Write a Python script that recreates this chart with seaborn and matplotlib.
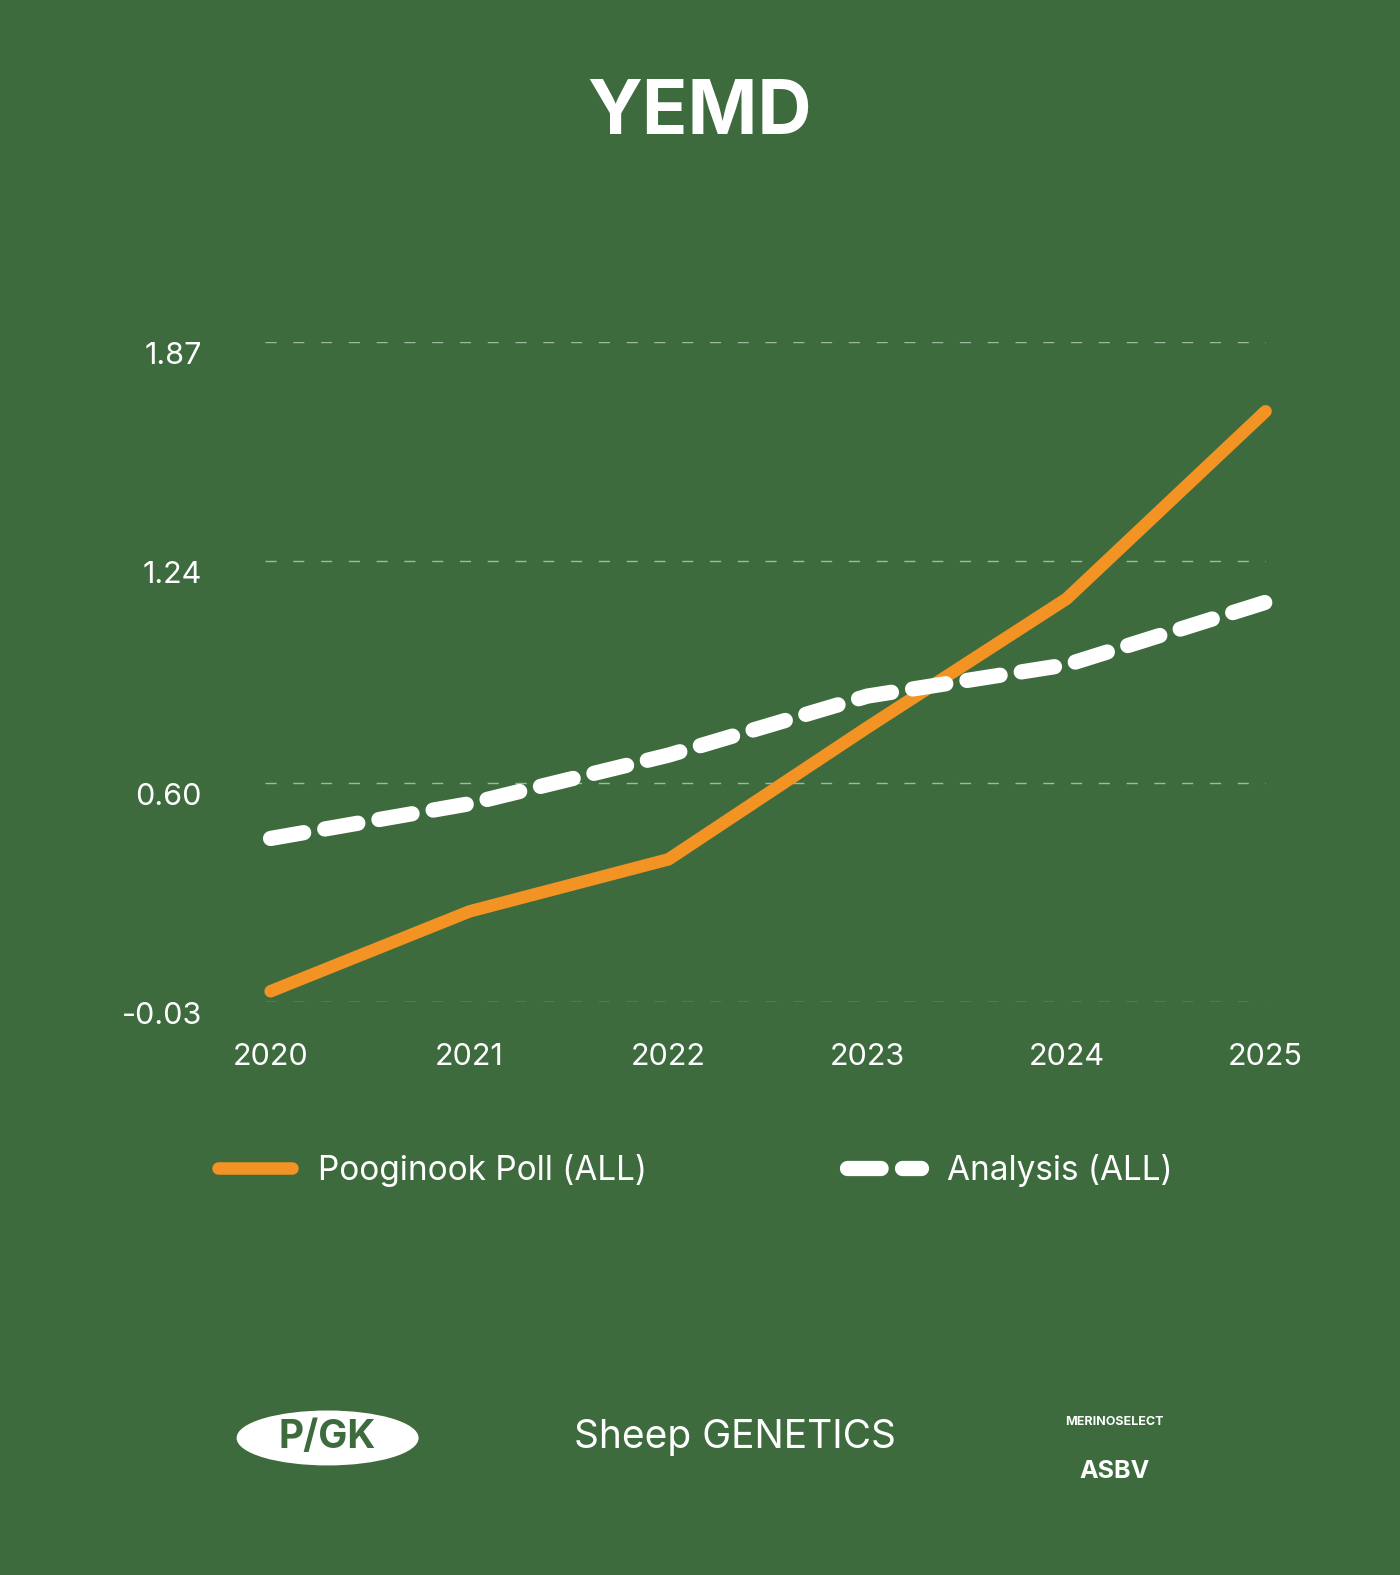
import numpy as np
import pandas as pd
import matplotlib.pyplot as plt
import seaborn as sns
from matplotlib.patches import Ellipse

# data
years = [2020, 2021, 2022, 2023, 2024, 2025]
pooginook = [0.00, 0.23, 0.38, 0.76, 1.13, 1.67]
analysis = [0.44, 0.54, 0.68, 0.85, 0.94, 1.12]
yticks = [-0.03, 0.60, 1.24, 1.87]

BG = '#3d6b3e'
ORANGE = '#f39323'

sns.set_theme(style='white')
plt.rcParams['font.family'] = ['Inter', 'DejaVu Sans']

df = pd.DataFrame({'year': years * 2,
                   'value': pooginook + analysis,
                   'series': ['Pooginook Poll (ALL)'] * 6 + ['Analysis (ALL)'] * 6})

fig = plt.figure(figsize=(14, 15.75), dpi=100, facecolor=BG)
ax = fig.add_axes([0.189, 0.364, 0.715, 0.419], facecolor=BG)

sns.lineplot(data=df[df.series == 'Pooginook Poll (ALL)'], x='year', y='value',
             color=ORANGE, lw=9, ax=ax, label='Pooginook Poll (ALL)',
             solid_capstyle='round', clip_on=False)
sns.lineplot(data=df[df.series == 'Analysis (ALL)'], x='year', y='value',
             color='white', lw=11, ax=ax, label='Analysis (ALL)',
             dashes=False, clip_on=False)
ax.lines[1].set_linestyle((0, (2.2, 1.4)))
ax.lines[1].set_dash_capstyle('round')

ax.set_xlim(2019.97, 2025)
ax.set_ylim(-0.03, 1.87)
ax.set_yticks(yticks)
ax.set_yticklabels([f'{v:.2f}' for v in yticks])
ax.set_xticks(years)
for y in yticks:
    ax.axhline(y, color='#9fb89f', lw=1, ls=(0, (8, 12)), zorder=0)
for s in ax.spines.values():
    s.set_visible(False)
ax.tick_params(colors='white', labelsize=22, length=0)
ax.tick_params(axis='y', pad=45)
for lbl in ax.get_yticklabels():
    lbl.set_verticalalignment('top')
ax.tick_params(axis='x', pad=30)
ax.set_xlabel('')
ax.set_ylabel('')

leg = ax.legend(loc='center', bbox_to_anchor=(0.497, 0.257), bbox_transform=fig.transFigure,
                ncol=2, frameon=False, fontsize=24, labelcolor='white',
                columnspacing=6, handlelength=2.2, handletextpad=0.8)

fig.text(0.5, 0.927, 'YEMD', ha='center', va='center', color='white',
         fontsize=54, fontweight='bold')

# logos (text approximations)
fig.patches.append(Ellipse((0.234, 0.087), 0.129, 0.034, transform=fig.transFigure,
                           color='white'))
fig.text(0.234, 0.087, 'P/GK', ha='center', va='center', color=BG,
         fontsize=28, fontweight='bold')
fig.text(0.525, 0.087, 'Sheep GENETICS', ha='center', va='center', color='white',
         fontsize=28)
fig.text(0.796, 0.097, 'MERINOSELECT', ha='center', va='center', color='white',
         fontsize=9, fontweight='bold')
fig.text(0.796, 0.066, 'ASBV', ha='center', va='center', color='white',
         fontsize=18, fontweight='bold')

fig.savefig('out.png', facecolor=BG)
